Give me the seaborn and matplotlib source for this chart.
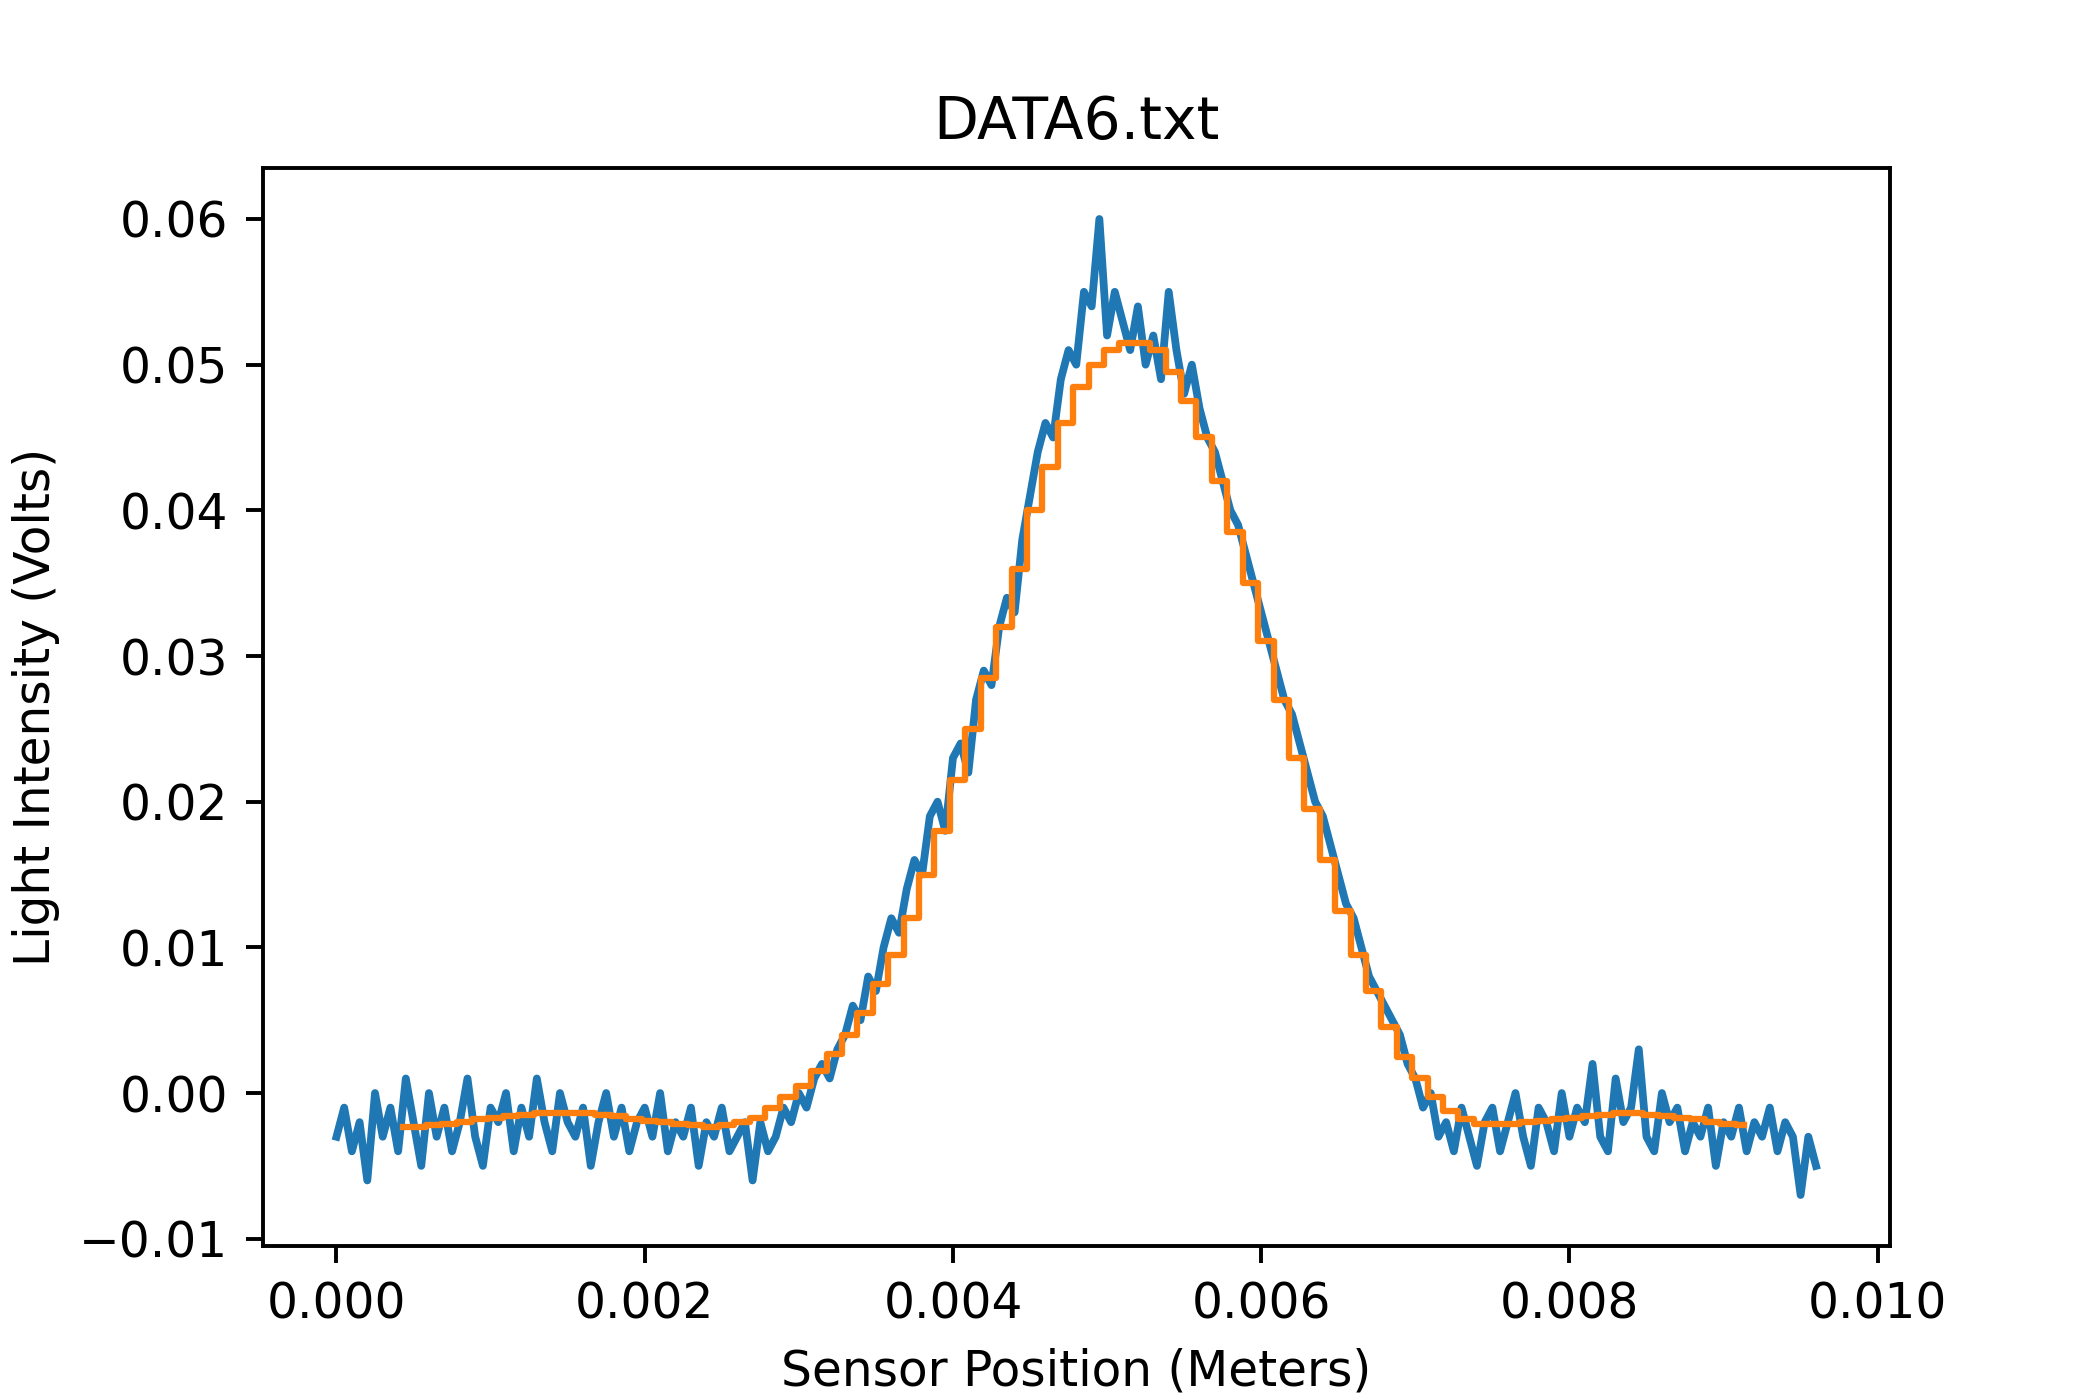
import numpy as np
import matplotlib
matplotlib.use('Agg')
import matplotlib.pyplot as plt
import seaborn as sns

# raw readings (mV), one sample every 0.05 mm
raw_mv = [-3,-1,-4,-2,-6,0,-3,-1,-4,1,-2,-5,0,-3,-1,-4,-2,1,-3,-5,-1,-2,0,-4,-1,-3,1,-2,-4,0,
          -2,-3,-1,-5,-2,0,-3,-1,-4,-2,-1,-3,0,-4,-2,-3,-1,-5,-2,-3,-1,-4,-3,-2,-6,-2,-4,
          -3,-1,-2,0,-1,1,2,1,3,4,6,5,8,7,10,12,11,14,16,15,19,20,18,23,24,22,27,29,28,32,34,33,38,41,
          44,46,45,49,51,50,55,54,60,52,55,53,51,54,50,52,49,55,51,48,50,47,
          45,44,42,40,39,37,35,33,31,29,27,26,24,22,20,19,17,15,13,12,10,8,7,6,5,4,2,1,-1,0,
          -3,-2,-4,-1,-3,-5,-2,-1,-4,-2,0,-3,-5,-1,-2,-4,0,-3,-1,-2,2,-3,-4,1,-2,-1,3,-3,-4,0,
          -2,-1,-4,-2,-3,-1,-5,-2,-3,-1,-4,-2,-3,-1,-4,-2,-3,-7,-3,-5]
raw_step = 0.00005

# smoothed readings (mV), one every 0.1 mm starting at 0.43 mm
smooth_mv = [-2.3,-2.3,-2.2,-2.1,-2.0,-1.8,-1.7,-1.6,-1.5,-1.4,-1.4,
             -1.4,-1.4,-1.5,-1.6,-1.8,-1.9,-2.0,-2.1,-2.2,-2.3,-2.2,
             -2.0,-1.7,-1.0,-0.3,0.5,1.5,2.7,4.0,5.5,
             7.5,9.5,12,15,18,21.5,25,28.5,32,36,40,
             43,46,48.5,50,51,51.5,51.5,51,49.5,47.5,45,
             42,38.5,35,31,27,23,19.5,16,12.5,9.5,7,
             4.5,2.5,1,-0.3,-1.2,-1.8,-2.1,-2.1,-2.1,
             -2.0,-1.9,-1.8,-1.7,-1.6,-1.5,-1.4,-1.4,-1.5,-1.6,-1.7,-1.8,-2.0,-2.1,-2.2]
smooth_start = 0.00043
smooth_step = 0.0001

x_raw = np.arange(len(raw_mv)) * raw_step
y_raw = np.array(raw_mv) / 1000
x_sm = smooth_start + np.arange(len(smooth_mv)) * smooth_step
y_sm = np.array(smooth_mv) / 1000

fig, ax = plt.subplots(figsize=(6, 4), dpi=350)
sns.lineplot(x=x_raw, y=y_raw, ax=ax, color='#1f77b4', linewidth=1.6)
sns.lineplot(x=x_sm, y=y_sm, ax=ax, color='#ff7f0e', linewidth=1.3, drawstyle='steps-mid')
ax.set_title('DATA6.txt')
ax.set_xlabel('Sensor Position (Meters)')
ax.set_ylabel('Light Intensity (Volts)')
ax.set_xticks([0, 0.002, 0.004, 0.006, 0.008, 0.010])
ax.set_xticklabels(['0.000', '0.002', '0.004', '0.006', '0.008', '0.010'])
ax.set_ylim(-0.0105, 0.0635)

fig.savefig('out.png')
